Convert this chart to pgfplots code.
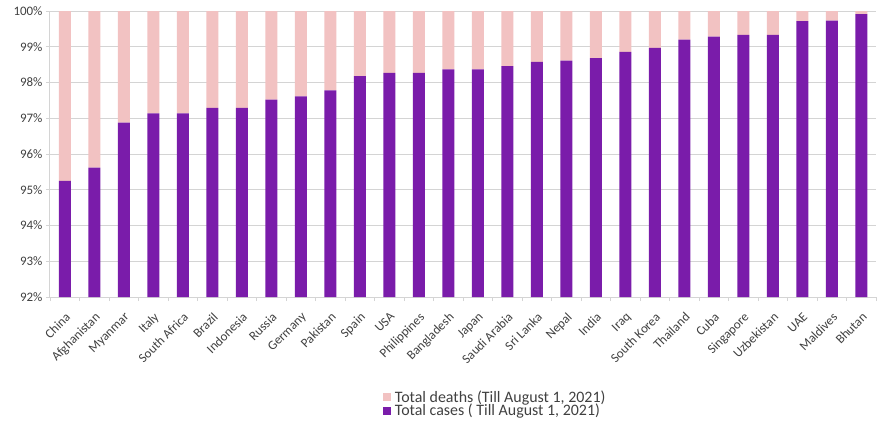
\documentclass[border=0pt]{standalone}
\usepackage{fontspec}
\setmainfont{Carlito}
\usepackage{pgfplots}
\usepackage{pgfplotstable}
\pgfplotsset{compat=1.18}
\definecolor{cases}{RGB}{122,28,170}
\definecolor{deaths}{RGB}{242,194,194}
\definecolor{gridc}{RGB}{212,212,212}
\definecolor{txt}{RGB}{64,64,64}
\pgfplotstableread{
x cases deaths
0 95.25 4.75
1 95.62 4.38
2 96.88 3.12
3 97.14 2.86
4 97.14 2.86
5 97.29 2.71
6 97.29 2.71
7 97.52 2.48
8 97.61 2.39
9 97.78 2.22
10 98.18 1.82
11 98.27 1.73
12 98.27 1.73
13 98.37 1.63
14 98.37 1.63
15 98.46 1.54
16 98.58 1.42
17 98.61 1.39
18 98.68 1.32
19 98.86 1.14
20 98.97 1.03
21 99.20 0.80
22 99.28 0.72
23 99.33 0.67
24 99.33 0.67
25 99.72 0.28
26 99.73 0.27
27 99.91 0.09
}\datatable
\begin{document}
\begin{tikzpicture}
\path (-50bp,-125bp) rectangle (828bp,297bp);
\begin{axis}[
  at={(0,0)}, anchor=south west,
  scale only axis, width=826bp, height=286bp,
  ybar stacked, bar width=12bp,
  ymin=92, ymax=100, xmin=-0.5, xmax=27.5,
  ytick={92,...,100},
  yticklabels={92\%,93\%,94\%,95\%,96\%,97\%,98\%,99\%,100\%},
  xtick={0,...,27},
  xticklabels={China,Afghanistan,Myanmar,Italy,South Africa,Brazil,Indonesia,Russia,Germany,Pakistan,Spain,USA,Philippines,Bangladesh,Japan,Saudi Arabia,Sri Lanka,Nepal,India,Iraq,South Korea,Thailand,Cuba,Singapore,Uzbekistan,UAE,Maldives,Bhutan},
  minor xtick={-0.5,0.5,...,27.5},
  tick align=outside,
  major tick length=4bp, minor tick length=4bp,
  major x tick style={draw=none},
  minor x tick style={gridc, line width=0.8bp},
  y tick style={gridc, line width=0.8bp},
  xticklabel shift=9bp,
  x tick label style={rotate=45, anchor=north east, inner sep=1bp, font=\fontsize{13}{13}\selectfont, text=txt},
  y tick label style={font=\fontsize{13}{13}\selectfont, text=txt},
  ymajorgrids, grid style={gridc, line width=1bp},
  axis x line*=bottom, axis y line*=left,
  axis line style={gridc, line width=1bp},
  reverse legend,
  legend style={at={(0.539,-0.312)}, anchor=north, draw=none, fill=none,
    font=\fontsize{16}{16}\selectfont, text=txt, row sep=-3.5bp,
    /tikz/every odd column/.append style={column sep=2bp}},
  legend cell align=left,
  legend image code/.code={\fill[#1] (0bp,-4bp) rectangle (8bp,4bp);},
]
\addplot[fill=cases, draw=none] table[x=x, y=cases] {\datatable};
\addplot[fill=deaths, draw=none] table[x=x, y=deaths] {\datatable};
\legend{{Total cases ( Till August 1, 2021)},{Total deaths (Till August 1, 2021)}}
\end{axis}
\end{tikzpicture}
\end{document}
